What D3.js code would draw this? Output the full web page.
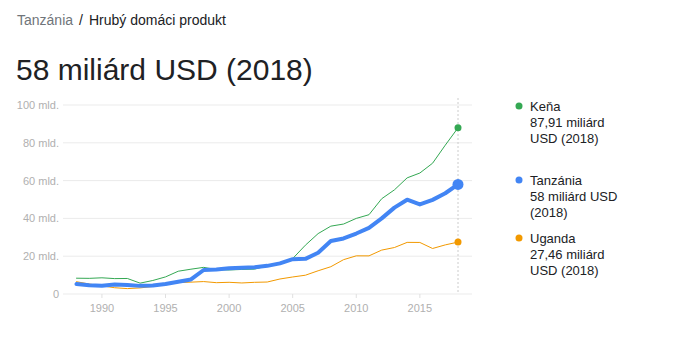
<!DOCTYPE html>
<html><head><meta charset="utf-8">
<script src="https://cdn.jsdelivr.net/npm/d3@7"></script>
<style>
body{margin:0;background:#fff;font-family:Arial,"Liberation Sans",sans-serif;}
</style></head>
<body><svg id="c" width="699" height="350"></svg>
<script>
const years = d3.range(1988, 2019);
const kenya = [8.36,8.28,8.57,8.15,8.21,5.75,7.15,9.05,12.05,13.12,14.09,12.90,12.71,12.99,13.15,14.90,16.10,18.74,25.83,31.96,35.90,37.02,40.00,41.95,50.41,55.10,61.45,64.01,69.19,78.76,87.91];
const tanzania = [5.3,4.6,4.4,5.0,4.7,4.3,4.5,5.3,6.5,7.7,12.7,13.0,13.6,13.9,14.1,14.9,16.2,18.4,18.6,21.8,28.0,29.4,32.0,35.0,40.0,45.7,49.9,47.4,49.8,53.3,58.0];
const uganda = [6.5,5.28,4.30,3.32,2.86,3.22,3.99,5.76,6.05,6.27,6.58,5.99,6.19,5.84,6.18,6.34,7.94,9.01,9.94,12.29,14.44,18.17,20.19,20.18,23.23,24.59,27.31,27.28,24.08,25.99,27.46];
const yTicks = [0,20,40,60,80,100];
const yTickLabels = ["0","20 mld.","40 mld.","60 mld.","80 mld.","100 mld."];
const xTicks = [1990,1995,2000,2005,2010,2015];
const legendNames = ["Keňa","Tanzánia","Uganda"];
const legendLines = [["87,91 miliárd","USD (2018)"],["58 miliárd USD","(2018)"],["27,46 miliárd","USD (2018)"]];

const svg = d3.select("#c");
svg.append("text").attr("x",17).attr("y",25).attr("font-size",14).attr("fill","#70757a").text("Tanzánia");
svg.append("text").attr("x",79).attr("y",25).attr("font-size",14).attr("fill","#202124").text("/");
svg.append("text").attr("x",89).attr("y",25).attr("font-size",14).attr("fill","#202124").text("Hrubý domáci produkt");
svg.append("text").attr("x",16).attr("y",80).attr("font-size",30).attr("fill","#202124").text("58 miliárd USD (2018)");

const x = d3.scaleLinear().domain([1988,2018]).range([76.5,458]);
const y = d3.scaleLinear().domain([0,100]).range([294,105]);

// grid
svg.append("g").selectAll("line").data(yTicks).join("line")
  .attr("x1",63).attr("x2",472).attr("y1",d=>y(d)).attr("y2",d=>y(d))
  .attr("stroke","#ebebeb").attr("stroke-width",1);
svg.append("g").selectAll("line").data(xTicks).join("line")
  .attr("x1",d=>x(d)).attr("x2",d=>x(d)).attr("y1",294).attr("y2",298)
  .attr("stroke","#e0e0e0").attr("stroke-width",1);
svg.append("g").selectAll("text").data(yTicks).join("text")
  .attr("x",59).attr("y",d=>y(d)+4).attr("text-anchor","end")
  .attr("font-size",11).attr("fill","#b0b0b0").text((d,i)=>yTickLabels[i]);
svg.append("g").selectAll("text").data(xTicks).join("text")
  .attr("x",d=>x(d)).attr("y",312).attr("text-anchor","middle")
  .attr("font-size",11).attr("fill","#b0b0b0").text(d=>d);

svg.append("line").attr("x1",x(2018)).attr("x2",x(2018)).attr("y1",98).attr("y2",294)
  .attr("stroke","#cccccc").attr("stroke-width",1).attr("stroke-dasharray","2,2");

const line = d3.line().x((d,i)=>x(years[i])).y(d=>y(d));
const series = [
  {v:uganda,c:"#f29900",w:1,r:3.5},
  {v:kenya,c:"#34a853",w:1,r:3.5},
  {v:tanzania,c:"#4285f4",w:4,r:5.5}
];
series.forEach(s=>{
  svg.append("path").datum(s.v).attr("d",line).attr("fill","none")
    .attr("stroke",s.c).attr("stroke-width",s.w).attr("stroke-linejoin","round").attr("stroke-linecap","round");
  svg.append("circle").attr("cx",x(2018)).attr("cy",y(s.v[s.v.length-1])).attr("r",s.r).attr("fill",s.c);
});

// legend
const legColors = ["#34a853","#4285f4","#f29900"];
const legY = [106,180,238];
legendNames.forEach((n,i)=>{
  svg.append("circle").attr("cx",519).attr("cy",legY[i]).attr("r",3.5).attr("fill",legColors[i]);
  const t = svg.append("text").attr("x",530).attr("y",legY[i]+5).attr("font-size",13).attr("fill","#202124");
  t.append("tspan").attr("x",530).text(n);
  legendLines[i].forEach(l=>t.append("tspan").attr("x",530).attr("dy",16).text(l));
});
</script></body></html>
